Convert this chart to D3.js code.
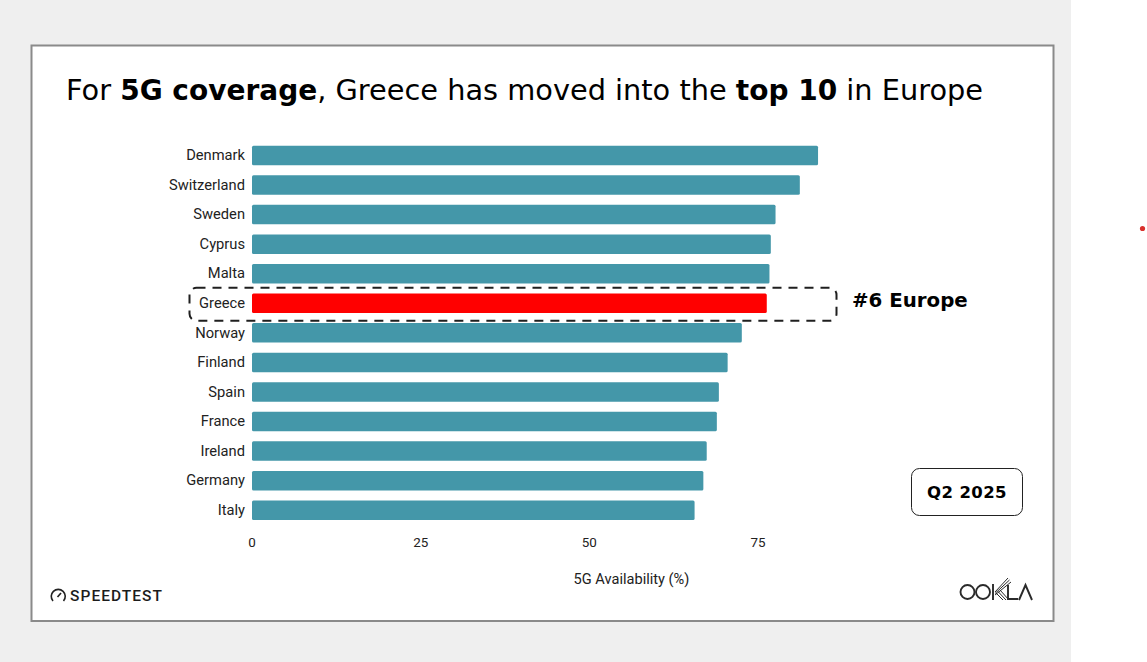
<!DOCTYPE html>
<html><head><meta charset="utf-8">
<script src="https://cdn.jsdelivr.net/npm/d3@7"></script>
<style>html,body{margin:0;padding:0;background:#fff}svg{display:block}</style>
</head><body><svg id="c" width="1147" height="662"></svg>
<script>
const countries=["Denmark","Switzerland","Sweden","Cyprus","Malta","Greece","Norway","Finland","Spain","France","Ireland","Germany","Italy"];
const availability=[83.9,81.2,77.6,76.9,76.7,76.3,72.6,70.5,69.2,68.9,67.4,66.9,65.6];
const xTicks=[0,25,50,75];
const highlight="Greece";
const titleParts=[["For ",0],["5G coverage",1],[", Greece has moved into the ",0],["top 10",1],[" in Europe",0]];

const svg=d3.select("#c");
const sans="'DejaVu Sans',Verdana,sans-serif", rob="Roboto,sans-serif";
svg.append("rect").attr("width",1071).attr("height",662).attr("fill","#efefef");
svg.append("rect").attr("x",31.5).attr("y",45.5).attr("width",1022).attr("height",575.5)
  .attr("fill","#fff").attr("stroke","#8a8a8a").attr("stroke-width",2);

const title=svg.append("text").attr("x",66).attr("y",100).attr("font-family",sans).attr("fill","#000");
title.selectAll("tspan").data(titleParts).join("tspan")
  .attr("font-weight",d=>d[1]?"bold":"normal").attr("font-size",d=>d[1]?28:28.8)
  .style("white-space","pre").text(d=>d[0]);

const x=d3.scaleLinear().domain([0,75]).range([252,758]);
const y=d3.scaleBand().domain(countries).range([140.7,525.0]).paddingInner(0.34).paddingOuter(0.17);

const gy=svg.append("g").attr("transform",`translate(${x(0)},0)`).call(d3.axisLeft(y).tickSize(0).tickPadding(7));
gy.select(".domain").remove();
gy.selectAll("text").attr("font-family",rob).attr("font-size",14.7).attr("fill","#222");
const gx=svg.append("g").attr("transform","translate(-0.5,537)").call(d3.axisBottom(x).tickValues(xTicks).tickSize(0).tickPadding(0));
gx.select(".domain").remove();
gx.selectAll("text").attr("font-family",rob).attr("font-size",13.4).attr("fill","#222");

svg.append("g").selectAll("rect").data(countries).join("rect")
  .attr("x",x(0)).attr("y",d=>y(d)).attr("height",y.bandwidth())
  .attr("width",(d,i)=>x(availability[i])-x(0)).attr("rx",1.5)
  .attr("fill",d=>d===highlight?"#ff0000":"#4497a9");

svg.append("text").attr("x",631.5).attr("y",584).attr("text-anchor","middle").attr("font-family",rob)
  .attr("font-size",14.6).attr("fill","#222").text("5G Availability (%)");

const gTop=y(highlight)+y.bandwidth()/2-15.5;
svg.append("rect").attr("x",189.5).attr("y",gTop).attr("width",647).attr("height",33).attr("rx",7)
  .attr("fill","none").attr("stroke","#1f1f1f").attr("stroke-width",2).attr("stroke-dasharray","9 7");
svg.append("text").attr("x",852).attr("y",307).attr("font-family",sans).attr("font-weight","bold").attr("font-size",19.8).attr("fill","#000").text("#6 Europe");

svg.append("rect").attr("x",911.5).attr("y",468.5).attr("width",111).attr("height",47).attr("rx",8).attr("fill","#fff").attr("stroke","#222").attr("stroke-width",1);
svg.append("text").attr("x",967).attr("y",498).attr("text-anchor","middle").attr("font-family",sans).attr("font-weight","bold").attr("font-size",16.5).attr("letter-spacing",0.4).attr("fill","#000").text("Q2 2025");

// Speedtest logo
const sp=svg.append("g").attr("fill","none").attr("stroke","#222").attr("stroke-width",1.6);
sp.append("path").attr("d","M53 601A7 7 0 1 1 63.5 601");
sp.append("path").attr("d","M57.5 597L61 593");
svg.append("text").attr("x",70).attr("y",600.5).attr("font-family",rob).attr("font-weight",500).attr("font-size",15.5).attr("letter-spacing",1.05).attr("fill","#1c1c1c").text("SPEEDTEST");

// Ookla logo
const ok=svg.append("g").attr("fill","none").attr("stroke","#2a2a2a").attr("stroke-width",1.9);
ok.append("circle").attr("cx",967.5).attr("cy",592).attr("r",7);
ok.append("circle").attr("cx",983).attr("cy",592).attr("r",7);
ok.append("path").attr("d","M993 584V600");
ok.append("path").attr("stroke-width",1).attr("d","M995 592L1008 578M995 593.5L1009.5 580M995 595L1011 582M996 593L1003 600M998 591.5L1006 600M1000 590L1009 600");
ok.append("path").attr("d","M1008 585V599H1018");
ok.append("path").attr("d","M1019 600L1025.5 585L1032 600");

// stray red dot beside the slide
svg.append("circle").attr("cx",1142.5).attr("cy",228.5).attr("r",2.6).attr("fill","#d9302c");
</script></body></html>
